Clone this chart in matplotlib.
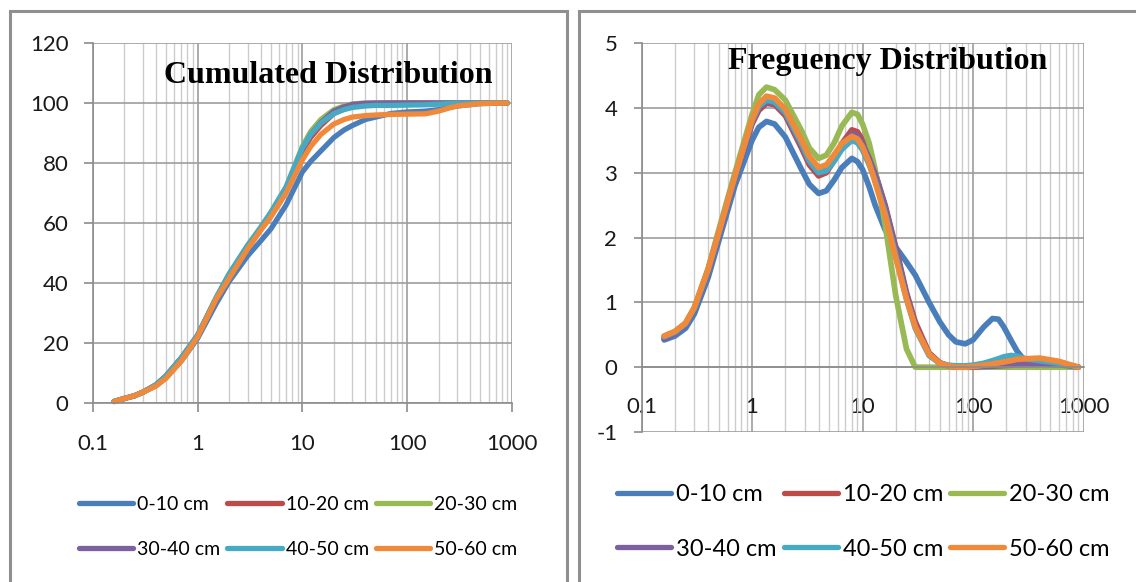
import matplotlib
matplotlib.use("Agg")
import matplotlib.pyplot as plt
from matplotlib.ticker import LogLocator, NullFormatter
from matplotlib.patches import Rectangle

# ---------------- data ----------------
series_names = ['0-10 cm', '10-20 cm', '20-30 cm', '30-40 cm', '40-50 cm', '50-60 cm']
series_colors = ['#4a7ebb', '#be4b48', '#98b954', '#7d60a0', '#46aac5', '#f08a3a']

x_tick_values = [0.1, 1, 10, 100, 1000]
x_tick_labels = ['0.1', '1', '10', '100', '1000']
cum_y_ticks = [0, 20, 40, 60, 80, 100, 120]
freq_y_ticks = [-1, 0, 1, 2, 3, 4, 5]

cum_title = 'Cumulated Distribution'
freq_title = 'Freguency Distribution'

# Cumulated distribution (%)
cum_size = [0.16, 0.2, 0.25, 0.3, 0.4, 0.5, 0.7, 1, 1.5, 2, 3, 4, 5, 7, 10, 12, 15, 20, 25, 30,
            40, 50, 70, 100, 150, 200, 250, 300, 500, 900]
cum_0_10 = [0.5, 1.5, 2.4, 3.5, 5.8, 8.5, 14, 21.5, 33, 40.5, 49, 54, 58, 66, 77, 80.5, 84, 88.5,
            91, 92.5, 94.5, 95.3, 96.5, 97, 97.3, 97.8, 98.5, 99, 99.8, 100]
cum_10_20 = [0.5, 1.5, 2.4, 3.6, 6, 9, 15, 22.5, 34.5, 42.5, 52, 58, 62.5, 71, 84, 88.5, 92.5,
             96.5, 98, 99, 99.6, 99.8, 100, 100, 100, 100, 100, 100, 100, 100]
cum_20_30 = [0.5, 1.5, 2.4, 3.6, 6, 9, 15, 22.5, 35, 43, 52.5, 58.5, 63.5, 72, 85.5, 90.5, 94.5,
             97.8, 99, 99.7, 100, 100, 100, 100, 100, 100, 100, 100, 100, 100]
cum_30_40 = [0.5, 1.5, 2.4, 3.6, 6, 9, 15, 22.5, 34.5, 42.5, 52, 58, 63, 71.5, 84.5, 89.5, 93.5,
             97.3, 98.7, 99.5, 99.9, 100, 100, 100, 100, 100, 100, 100, 100, 100]
cum_40_50 = [0.5, 1.5, 2.4, 3.6, 6, 9, 15, 22.5, 35, 43, 52.5, 58.5, 63.5, 72, 85, 89.5, 93.3,
             96.5, 97.8, 98.5, 99, 99.2, 99.2, 99.3, 99.4, 99.6, 99.8, 99.9, 100, 100]
cum_50_60 = [0.5, 1.5, 2.4, 3.6, 5.6, 8.2, 14, 22, 34.5, 41.5, 51.3, 57.5, 62, 70, 81, 85.5, 89.5,
             93, 94.5, 95.3, 95.8, 96, 96.2, 96.3, 96.4, 97.3, 98.3, 99, 99.8, 100]

# Frequency distribution (%)
freq_size = [0.16, 0.2, 0.25, 0.3, 0.4, 0.5, 0.7, 1,
             1.15, 1.35, 1.6, 2, 2.8, 3.3, 4, 4.7, 5.5, 6.5,
             8, 9, 10, 11.5, 13, 16, 20, 25, 30, 40,
             50, 60, 70, 85, 100, 125, 150, 170, 190, 220,
             250, 300, 400, 600, 750, 900]
freq_0_10 = [0.42, 0.48, 0.6, 0.82, 1.38, 1.95, 2.8, 3.5,
             3.7, 3.79, 3.75, 3.55, 3.05, 2.82, 2.68, 2.72, 2.88, 3.08,
             3.22, 3.17, 3.05, 2.78, 2.5, 2.12, 1.85, 1.62, 1.42, 1.0,
             0.7, 0.5, 0.39, 0.36, 0.42, 0.62, 0.75, 0.74, 0.62, 0.42,
             0.25, 0.08, 0.04, 0.02, 0.01, 0.0]
freq_10_20 = [0.45, 0.53, 0.66, 0.9, 1.48, 2.05, 2.92, 3.75,
              3.96, 4.07, 4.05, 3.88, 3.38, 3.12, 2.95, 3.0, 3.18, 3.45,
              3.66, 3.63, 3.5, 3.25, 3.0, 2.5, 1.85, 1.15, 0.7, 0.22,
              0.07, 0.02, 0.0, 0.0, 0.0, 0.01, 0.02, 0.025, 0.03, 0.04,
              0.05, 0.06, 0.07, 0.05, 0.02, 0.0]
freq_20_30 = [0.48, 0.55, 0.68, 0.92, 1.52, 2.12, 3.0, 3.9,
              4.2, 4.32, 4.28, 4.12, 3.65, 3.38, 3.22, 3.27, 3.45, 3.72,
              3.93, 3.9, 3.75, 3.45, 3.05, 2.2, 1.1, 0.28, 0.0, 0.0,
              0.0, 0.0, 0.0, 0.0, 0.0, 0.0, 0.0, 0.0, 0.0, 0.0,
              0.0, 0.0, 0.0, 0.0, 0.0, 0.0]
freq_30_40 = [0.44, 0.52, 0.65, 0.89, 1.47, 2.05, 2.92, 3.78,
              4.0, 4.1, 4.07, 3.92, 3.42, 3.17, 3.0, 3.04, 3.2, 3.42,
              3.6, 3.57, 3.45, 3.22, 2.98, 2.48, 1.82, 1.12, 0.65, 0.2,
              0.06, 0.02, 0.0, 0.0, 0.0, 0.01, 0.015, 0.02, 0.025, 0.03,
              0.035, 0.04, 0.05, 0.04, 0.02, 0.0]
freq_40_50 = [0.47, 0.54, 0.67, 0.91, 1.5, 2.08, 2.95, 3.8,
              4.02, 4.12, 4.09, 3.93, 3.45, 3.18, 3.0, 3.03, 3.17, 3.36,
              3.5, 3.46, 3.35, 3.12, 2.88, 2.38, 1.72, 1.05, 0.6, 0.18,
              0.06, 0.03, 0.02, 0.02, 0.03, 0.06, 0.1, 0.13, 0.16, 0.18,
              0.17, 0.13, 0.1, 0.06, 0.03, 0.0]
freq_50_60 = [0.48, 0.55, 0.68, 0.92, 1.51, 2.08, 2.95, 3.82,
              4.06, 4.18, 4.15, 3.98, 3.5, 3.25, 3.08, 3.12, 3.27, 3.45,
              3.56, 3.52, 3.4, 3.15, 2.85, 2.35, 1.68, 1.05, 0.62, 0.2,
              0.06, 0.02, 0.0, 0.0, 0.01, 0.03, 0.05, 0.065, 0.08, 0.1,
              0.12, 0.13, 0.14, 0.09, 0.04, 0.0]

cum_series = [cum_0_10, cum_10_20, cum_20_30, cum_30_40, cum_40_50, cum_50_60]
freq_series = [freq_0_10, freq_10_20, freq_20_30, freq_30_40, freq_40_50, freq_50_60]

# ---------------- style ----------------
plt.rcParams['font.family'] = ['Lato', 'DejaVu Sans']
W, H = 1136, 582
fig = plt.figure(figsize=(W / 100, H / 100), dpi=100)
fig.patch.set_facecolor('white')

MAJOR_GRID = '#9d9d9d'
MINOR_GRID = '#cccccc'
AXIS_COL = '#8c8c8c'


def px_rect(x0, y0, x1, y1):
    return [x0 / W, 1 - y1 / H, (x1 - x0) / W, (y1 - y0) / H]


def style_axes(ax, yticks, ylim):
    ax.set_xscale('log')
    ax.set_xlim(0.1, 1000)
    ax.set_ylim(*ylim)
    ax.set_xticks(x_tick_values)
    ax.set_xticklabels(x_tick_labels)
    ax.xaxis.set_minor_locator(LogLocator(base=10, subs=[2, 3, 4, 5, 6, 7, 8, 9], numticks=20))
    ax.xaxis.set_minor_formatter(NullFormatter())
    ax.set_yticks(yticks)
    ax.set_yticklabels([str(v) for v in yticks])
    ax.grid(True, which='major', color=MAJOR_GRID, lw=1.2)
    ax.grid(True, which='minor', axis='x', color=MINOR_GRID, lw=1.0)
    ax.set_axisbelow(True)
    for s in ['top', 'right']:
        ax.spines[s].set_visible(False)
    for s in ['left', 'bottom']:
        ax.spines[s].set_color(AXIS_COL)
        ax.spines[s].set_linewidth(1.2)
    ax.tick_params(axis='both', which='major', labelsize=16, colors=AXIS_COL,
                   labelcolor='#1a1a1a', width=1.2)
    ax.tick_params(axis='x', which='minor', length=0)


# ---------------- panel frames ----------------
fig.patches.append(Rectangle((10 / W, -0.05), (567 - 10) / W, 1.05 - 11 / H,
                             transform=fig.transFigure, fill=False,
                             edgecolor='#8f8f8f', lw=2.2, zorder=0))
fig.patches.append(Rectangle((579 / W, -0.05), 0.5, 1.05 - 11 / H,
                             transform=fig.transFigure, fill=False,
                             edgecolor='#8f8f8f', lw=2.2, zorder=0))

order = [0, 3, 1, 4, 2, 5]

# ---------------- left: cumulated ----------------
ax1 = fig.add_axes(px_rect(92.7, 43, 512, 403))
ax1.set_facecolor('none')
style_axes(ax1, cum_y_ticks, (0, 120))
ax1.tick_params(axis='y', which='major', length=6.5, pad=11)
ax1.tick_params(axis='x', which='major', length=6.5, pad=16)
lines1 = []
for name, col, vals in zip(series_names, series_colors, cum_series):
    ln, = ax1.plot(cum_size, vals, color=col, lw=3.8, solid_capstyle='round',
                   solid_joinstyle='round', label=name, clip_on=False)
    lines1.append(ln)
fig.text(328.5 / W, 1 - 83.5 / H, cum_title, ha='center', va='baseline',
         family='Liberation Serif', weight='bold', fontsize=23, color='black')
leg1 = fig.legend([lines1[i] for i in order], [series_names[i] for i in order],
                  loc='upper left', bbox_to_anchor=(79 / W, 1 - 496 / H), ncol=3,
                  frameon=False, fontsize=14, handlelength=2.8, handletextpad=0.2,
                  columnspacing=0.35, labelspacing=1.45, borderpad=0, borderaxespad=0)
for h in leg1.legend_handles:
    h.set_linewidth(3.8)

# ---------------- right: frequency ----------------
ax2 = fig.add_axes(px_rect(641.6, 43, 1083.5, 432))
ax2.set_facecolor('none')
style_axes(ax2, freq_y_ticks, (-1, 5))
ax2.spines['bottom'].set_position(('data', 0))
ax2.tick_params(axis='y', which='major', length=6, pad=11.5)
ax2.tick_params(axis='x', which='major', length=0, pad=21.5)
lines2 = []
for name, col, vals in zip(series_names, series_colors, freq_series):
    ln, = ax2.plot(freq_size, vals, color=col, lw=4.1, solid_capstyle='round',
                   solid_joinstyle='round', label=name)
    lines2.append(ln)
fig.text(887.6 / W, 1 - 69.5 / H, freq_title, ha='center', va='baseline',
         family='Liberation Serif', weight='bold', fontsize=23, color='black')
leg2 = fig.legend([lines2[i] for i in order], [series_names[i] for i in order],
                  loc='upper left', bbox_to_anchor=(617 / W, 1 - 484 / H), ncol=3,
                  frameon=False, fontsize=17, handlelength=2.3, handletextpad=0.2,
                  columnspacing=0.3, labelspacing=1.42, borderpad=0, borderaxespad=0)
for h in leg2.legend_handles:
    h.set_linewidth(3.8)

fig.savefig('out.png', dpi=100, facecolor='white')
